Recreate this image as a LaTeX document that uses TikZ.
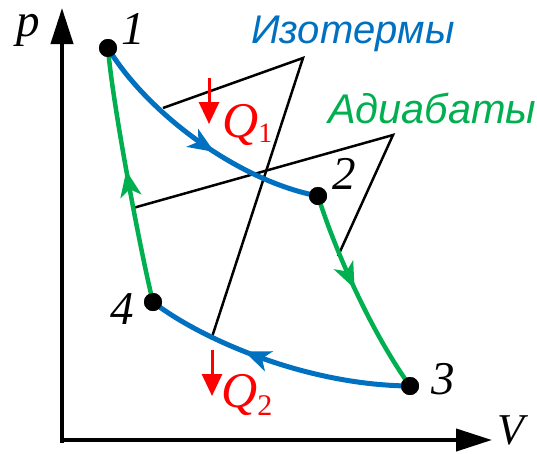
\documentclass[tikz,border=0pt]{standalone}
\usepackage{fontspec}
\setmainfont{Liberation Serif}
\newfontfamily\labfont{Liberation Sans}
\usetikzlibrary{arrows.meta,decorations.markings}
\definecolor{isoblue}{RGB}{0,112,192}
\definecolor{adgreen}{RGB}{0,176,80}
\begin{document}
\begin{tikzpicture}[x=1pt,y=-1pt,
  dot/.style={circle,fill=black,inner sep=0pt,minimum size=18pt},
  num/.style={font=\fontsize{47}{47}\selectfont\itshape,inner sep=0pt},
  qlab/.style={font=\fontsize{50}{50}\selectfont,inner sep=0pt,red,anchor=base west},
  word/.style={font=\labfont\itshape,inner sep=0pt,anchor=base west},
  iso/.style={line width=5pt,isoblue},
  adi/.style={line width=4.5pt,adgreen},
  midarrow/.style={postaction={decorate},decoration={markings,mark=at position #1 with {\arrow{Stealth[length=26pt,width=21pt,inset=7pt]}}}},
  pointer/.style={line width=2.5pt,black,line join=miter},
  heat/.style={red,line width=3pt,-{Triangle[length=22pt,width=20pt]}},
  axis/.style={line width=4pt,-{Triangle[length=36pt,width=22pt]}}
]
\useasboundingbox[fill=white] (0,0) rectangle (537,453);
% axes
\coordinate (O) at (62,440);
\coordinate (ytop) at (62,8);
\coordinate (xend) at (492,440);
\draw[axis] ([yshift=-3pt]O) -- (ytop);
\draw[axis] (O) -- (xend);
\node[num] (lp) at (28,30) {p};
\node[num,font=\fontsize{44}{44}\selectfont\itshape] (lV) at (511,430) {V};
% state points
\node[dot] (P1) at (108,48) {};
\node[dot] (P2) at (318,196) {};
\node[dot] (P3) at (410,386) {};
\node[dot] (P4) at (153,302) {};
\node[num] (l1) at (133,29) {1};
\node[num] (l2) at (344,174) {2};
\node[num] (l3) at (443,379) {3};
\node[num] (l4) at (122,309) {4};
% pointer lines
\coordinate (isoA) at (303,58);
\coordinate (isoE1) at (163,108);
\coordinate (isoE2) at (212,337);
\coordinate (adA) at (393,135);
\coordinate (adE1) at (133,208);
\coordinate (adE2) at (338,256);
\draw[pointer] (isoE1) -- (isoA) -- (isoE2);
\draw[pointer] (adE1) -- (adA) -- (adE2);
% curves
\draw[iso,midarrow=0.57] (P1.center) .. controls (145,110) and (235,180) .. (P2.center);
\draw[iso,midarrow=0.62] (P3.center) .. controls (300,385) and (195,335) .. (P4.center);
\draw[adi,midarrow=0.52] (P4.center) .. controls (140,250) and (112,100) .. (P1.center);
\draw[adi,midarrow=0.47] (P2.center) .. controls (335,250) and (370,330) .. (P3.center);
% redraw dots on top
\node[dot] at (P1) {};
\node[dot] at (P2) {};
\node[dot] at (P3) {};
\node[dot] at (P4) {};
% labels
\node[word,isoblue,font=\fontsize{40}{40}\selectfont\labfont\itshape] (tiso) at (251,43) {Изотермы};
\node[word,adgreen,font=\fontsize{41.5}{41.5}\selectfont\labfont\itshape] (tad) at (328,123) {Адиабаты};
% heat
\coordinate (q1s) at (209,78);
\coordinate (q1e) at (209,124);
\coordinate (q2s) at (212,350);
\coordinate (q2e) at (212,396);
\draw[heat] (q1s) -- (q1e);
\draw[heat] (q2s) -- (q2e);
\node[qlab] (Q1) at (222,137) {\textit{Q}\raisebox{-5pt}{\fontsize{28}{28}\selectfont 1}};
\node[qlab] (Q2) at (221,407) {\textit{Q}\raisebox{-8pt}{\fontsize{30}{30}\selectfont 2}};
\end{tikzpicture}
\end{document}
